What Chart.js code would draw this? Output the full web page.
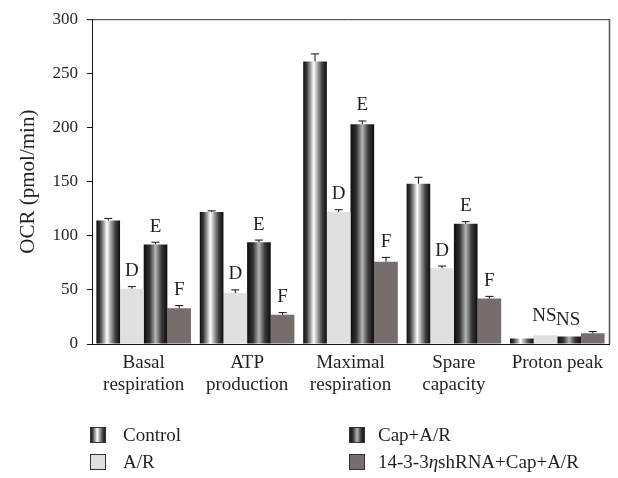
<!DOCTYPE html>
<html><head><meta charset="utf-8">
<script src="https://cdn.jsdelivr.net/npm/chart.js@4/dist/chart.umd.min.js"></script>
<style>html,body{margin:0;padding:0;background:#fff}#wrap{width:618px;height:478px;position:relative}</style>
</head><body><div id="wrap"><canvas id="c" width="618" height="478"></canvas></div>
<script>
const categories = [["Basal","respiration"],["ATP","production"],["Maximal","respiration"],["Spare","capacity"],"Proton peak"];
const seriesNames = ["Control","A/R","Cap+A/R","14-3-3ηshRNA+Cap+A/R"];
const control = [114,122,261,148,5];
const ar = [51,47,122,70,8];
const capAR = [92,94,203,111,7];
const shRNA = [33,27,76,42,10];
const controlErr = [2,1,7,6,0];
const arErr = [2,3,2,2,0];
const capErr = [2,2,3,2,0];
const shErr = [2.5,2,4,2,1.5];
const arMarks = ["D","D","D","D","NS"];
const capMarks = ["E","E","E","E","NS"];
const shMarks = ["F","F","F","F",""];
const controlMarks = ["","","","",""];
const yTicks = [0,50,100,150,200,250,300];

const FONT = "'Liberation Serif', 'Times New Roman', serif";
const TXT = "#231f20";
const errs = [controlErr, arErr, capErr, shErr];
const marks = [controlMarks, arMarks, capMarks, shMarks];

function ctrlGrad(ctx, x0, x1){
  const g = ctx.createLinearGradient(x0,0,x1,0);
  g.addColorStop(0,"#0d0d0d");
  g.addColorStop(0.15,"#3a3a3a");
  g.addColorStop(0.3,"#9a9a9a");
  g.addColorStop(0.45,"#ffffff");
  g.addColorStop(0.6,"#a8a8a8");
  g.addColorStop(0.8,"#404040");
  g.addColorStop(1,"#0d0d0d");
  return g;
}
function capGrad(ctx, x0, x1){
  const g = ctx.createLinearGradient(x0,0,x1,0);
  g.addColorStop(0,"#0d0d0d");
  g.addColorStop(0.25,"#333333");
  g.addColorStop(0.5,"#b5b5b5");
  g.addColorStop(0.75,"#3a3a3a");
  g.addColorStop(1,"#0d0d0d");
  return g;
}

const gradPlugin = {
  id:'grad',
  beforeDatasetsDraw(chart){
    const ctx = chart.ctx;
    [0,2].forEach(di=>{
      chart.getDatasetMeta(di).data.forEach(el=>{
        const x0 = el.x - el.width/2, x1 = el.x + el.width/2;
        const bg = di===0 ? ctrlGrad(ctx,x0,x1) : capGrad(ctx,x0,x1);
        el.options = Object.assign({}, el.options, {backgroundColor: bg});
      });
    });
  },
  afterDatasetsDraw(chart){
    const ctx = chart.ctx, y = chart.scales.y;
    ctx.save();
    chart.data.datasets.forEach((ds,di)=>{
      chart.getDatasetMeta(di).data.forEach((el,i)=>{
        const v = ds.data[i], e = errs[di][i];
        const yTop = y.getPixelForValue(v+e);
        if (e>0){
          ctx.strokeStyle="#111"; ctx.lineWidth=1;
          ctx.beginPath();
          ctx.moveTo(el.x, y.getPixelForValue(v)); ctx.lineTo(el.x, yTop);
          ctx.moveTo(el.x-4, yTop); ctx.lineTo(el.x+4, yTop);
          ctx.stroke();
        }
        const m = marks[di][i];
        if (m){
          ctx.fillStyle=TXT; ctx.font="19px "+FONT;
          ctx.textAlign="center"; ctx.textBaseline="alphabetic";
          const off = m==="NS" ? (di===1?14:11) : 10.5;
          ctx.fillText(m, el.x - (m==="NS"?1:0), yTop - off);
        }
      });
    });
    const a = chart.chartArea;
    ctx.strokeStyle="#333"; ctx.lineWidth=1;
    ctx.beginPath(); ctx.moveTo(a.left-5, a.top+0.5); ctx.lineTo(a.right+1, a.top+0.5); ctx.stroke();
    ctx.strokeStyle="#555"; ctx.lineWidth=1.5;
    ctx.beginPath(); ctx.moveTo(a.right+0.5, a.top); ctx.lineTo(a.right+0.5, a.bottom); ctx.stroke();
    ctx.restore();
  },
  afterDraw(chart){
    const ctx = chart.ctx;
    ctx.save();
    const items = [
      {x:90, y:427, tx:123, ty:441, kind:0},
      {x:90, y:454, tx:123, ty:468, kind:1},
      {x:349, y:427, tx:378, ty:441, kind:2},
      {x:349, y:454, tx:378, ty:468, kind:3}
    ];
    items.forEach(it=>{
      const w=16,h=16;
      if (it.kind===0) ctx.fillStyle = ctrlGrad(ctx,it.x,it.x+w);
      else if (it.kind===2) ctx.fillStyle = capGrad(ctx,it.x,it.x+w);
      else ctx.fillStyle = chart.data.datasets[it.kind].backgroundColor;
      ctx.fillRect(it.x,it.y,w,h);
      ctx.strokeStyle="#333"; ctx.lineWidth=1;
      ctx.strokeRect(it.x+0.5,it.y+0.5,w-1,h-1);
      ctx.fillStyle=TXT; ctx.textAlign="left"; ctx.textBaseline="alphabetic";
      const name = seriesNames[it.kind];
      const etaIdx = name.indexOf("η");
      if (etaIdx>=0){
        const a1 = name.slice(0,etaIdx), a2 = name.slice(etaIdx+1);
        ctx.font="19px "+FONT; ctx.fillText(a1,it.tx,it.ty);
        let xx = it.tx + ctx.measureText(a1).width;
        ctx.font="italic 19px "+FONT; ctx.fillText("η",xx,it.ty);
        xx += ctx.measureText("η").width;
        ctx.font="19px "+FONT; ctx.fillText(a2,xx,it.ty);
      } else {
        ctx.font="19px "+FONT; ctx.fillText(name,it.tx,it.ty);
      }
    });
    ctx.restore();
  }
};

new Chart(document.getElementById('c'), {
  type:'bar',
  data:{
    labels: categories,
    datasets:[
      {label:seriesNames[0], data:control, backgroundColor:"#444"},
      {label:seriesNames[1], data:ar, backgroundColor:"#e0e0e0"},
      {label:seriesNames[2], data:capAR, backgroundColor:"#444"},
      {label:seriesNames[3], data:shRNA, backgroundColor:"#776d6d"}
    ]
  },
  options:{
    responsive:false,
    devicePixelRatio:1,
    animation:false,
    layout:{padding:{top:17,right:9,left:0,bottom:0}},
    datasets:{bar:{barPercentage:1, categoryPercentage:0.915, borderWidth:0}},
    plugins:{legend:{display:false}, tooltip:{enabled:false}},
    scales:{
      x:{
        grid:{display:false, drawTicks:false},
        border:{display:true, color:"#111", width:1},
        ticks:{color:TXT, font:{family:FONT, size:19, lineHeight:1.15}, padding:8, maxRotation:0, autoSkip:false},
        afterFit(s){ s.height = 134; }
      },
      y:{
        min:0, max:300,
        afterBuildTicks(s){ s.ticks = yTicks.map(v=>({value:v})); },
        grid:{drawOnChartArea:false, drawTicks:true, tickLength:5, color:"#111"},
        border:{display:true, color:"#111", width:1},
        ticks:{color:TXT, font:{family:FONT, size:17}, padding:9},
        title:{display:true, text:"OCR (pmol/min)", color:TXT, font:{family:FONT, size:21}, padding:{top:16,bottom:0}},
        afterFit(s){ s.width = 92; }
      }
    }
  },
  plugins:[gradPlugin]
});
</script>
</body></html>
